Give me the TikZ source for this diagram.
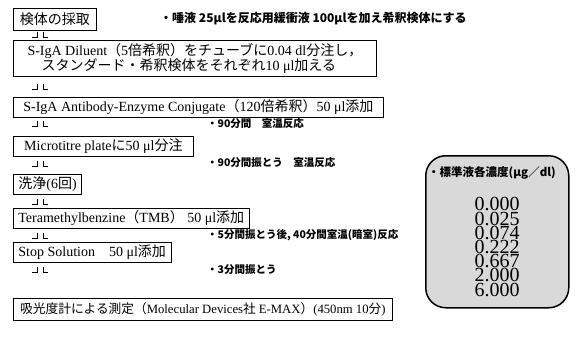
\documentclass[tikz,border=0pt]{standalone}
\usepackage{fontspec}
\usetikzlibrary{calc}
\setmainfont{Liberation Serif}
\newfontfamily\jp{Noto Sans CJK JP}
\newcommand{\J}[1]{{\jp #1}}
\begin{document}
\begin{tikzpicture}[x=1pt,y=-1pt,
  box/.style={draw, line width=0.8pt, anchor=north west, inner xsep=5pt, inner ysep=0pt, align=left, font=\fontsize{14}{15.5}\selectfont},
  note/.style={anchor=west, inner sep=0pt, font=\fontsize{10.5}{12}\selectfont\jp\bfseries},
  darr/.pic={\draw[line width=0.8pt] (-8,6)--(-3,6)--(-3,0) (3,0)--(3,6)--(8,6);}]
\useasboundingbox (0,0) rectangle (580,349);
\node[box, minimum width=83pt, minimum height=22pt] (b1) at (13,8) {\J{検体の採取}};
\node[box, minimum width=363pt, minimum height=36pt] (b2) at (13,40) {S-IgA Diluent\J{（}5\J{倍希釈）をチューブに}0.04 dl\J{分注し，}\\ \J{　スタンダード・希釈検体をそれぞれ}10 μl\J{加える}};
\node[box, minimum width=370pt, minimum height=20pt] (b3) at (13,97) {S-IgA Antibody-Enzyme Conjugate\J{（}120\J{倍希釈）}50 μl\J{添加}};
\node[box, minimum width=180pt, minimum height=20pt] (b4) at (13,136) {Microtitre plate\J{に}50 μl\J{分注}};
\node[box, minimum width=67pt, minimum height=20pt] (b5) at (13,174) {\J{洗浄}(6\J{回})};
\node[box, minimum width=235pt, minimum height=20pt] (b6) at (13,208) {Teramethylbenzine\J{（}TMB\J{）} 50 μl\J{添加}};
\node[box, minimum width=150pt, minimum height=20pt] (b7) at (13,242) {Stop Solution\quad 50 μl\J{添加}};
\node[box, minimum width=379pt, minimum height=22pt, font=\fontsize{12.7}{15}\selectfont] (b8) at (13,298) {\J{吸光度計による測定（}Molecular Devices\J{社} E-MAX\J{）}(450nm 10\J{分})};
\pic at ($(b1.south west)+(27,1)$) {darr};
\pic at ($(b2.south west)+(27,7)$) {darr};
\pic at ($(b3.south west)+(27,3)$) {darr};
\pic at ($(b4.south west)+(27,4)$) {darr};
\pic at ($(b5.south west)+(27,4)$) {darr};
\pic at ($(b6.south west)+(27,4)$) {darr};
\pic at ($(b7.south west)+(27,4)$) {darr};
\node[note, font=\fontsize{12}{13}\selectfont\jp\bfseries] (n1) at (160,19) {・唾液 25μlを反応用緩衝液 100μlを加え希釈検体にする};
\node[note] (n2) at (207,124) {・90分間　室温反応};
\node[note] (n3) at (207,163) {・90分間振とう　室温反応};
\node[note] (n4) at (207,235) {・5分間振とう後, 40分間室温(暗室)反応};
\node[note] (n5) at (207,270) {・3分間振とう};
\node[draw, line width=1.5pt, fill=black!15, rounded corners=20pt, minimum width=143pt, minimum height=152pt, anchor=north west] (std) at (425,155) {};
\node[note, font=\fontsize{11.5}{13}\selectfont\jp\bfseries] (st) at ($(std.north west)+(3,18)$) {・標準液各濃度(μg／dl)};
\node[align=center, inner sep=0pt, font=\fontsize{20}{14.2}\selectfont] (vals) at (497,247) {0.000\\0.025\\0.074\\0.222\\0.667\\2.000\\6.000};
\end{tikzpicture}
\end{document}
